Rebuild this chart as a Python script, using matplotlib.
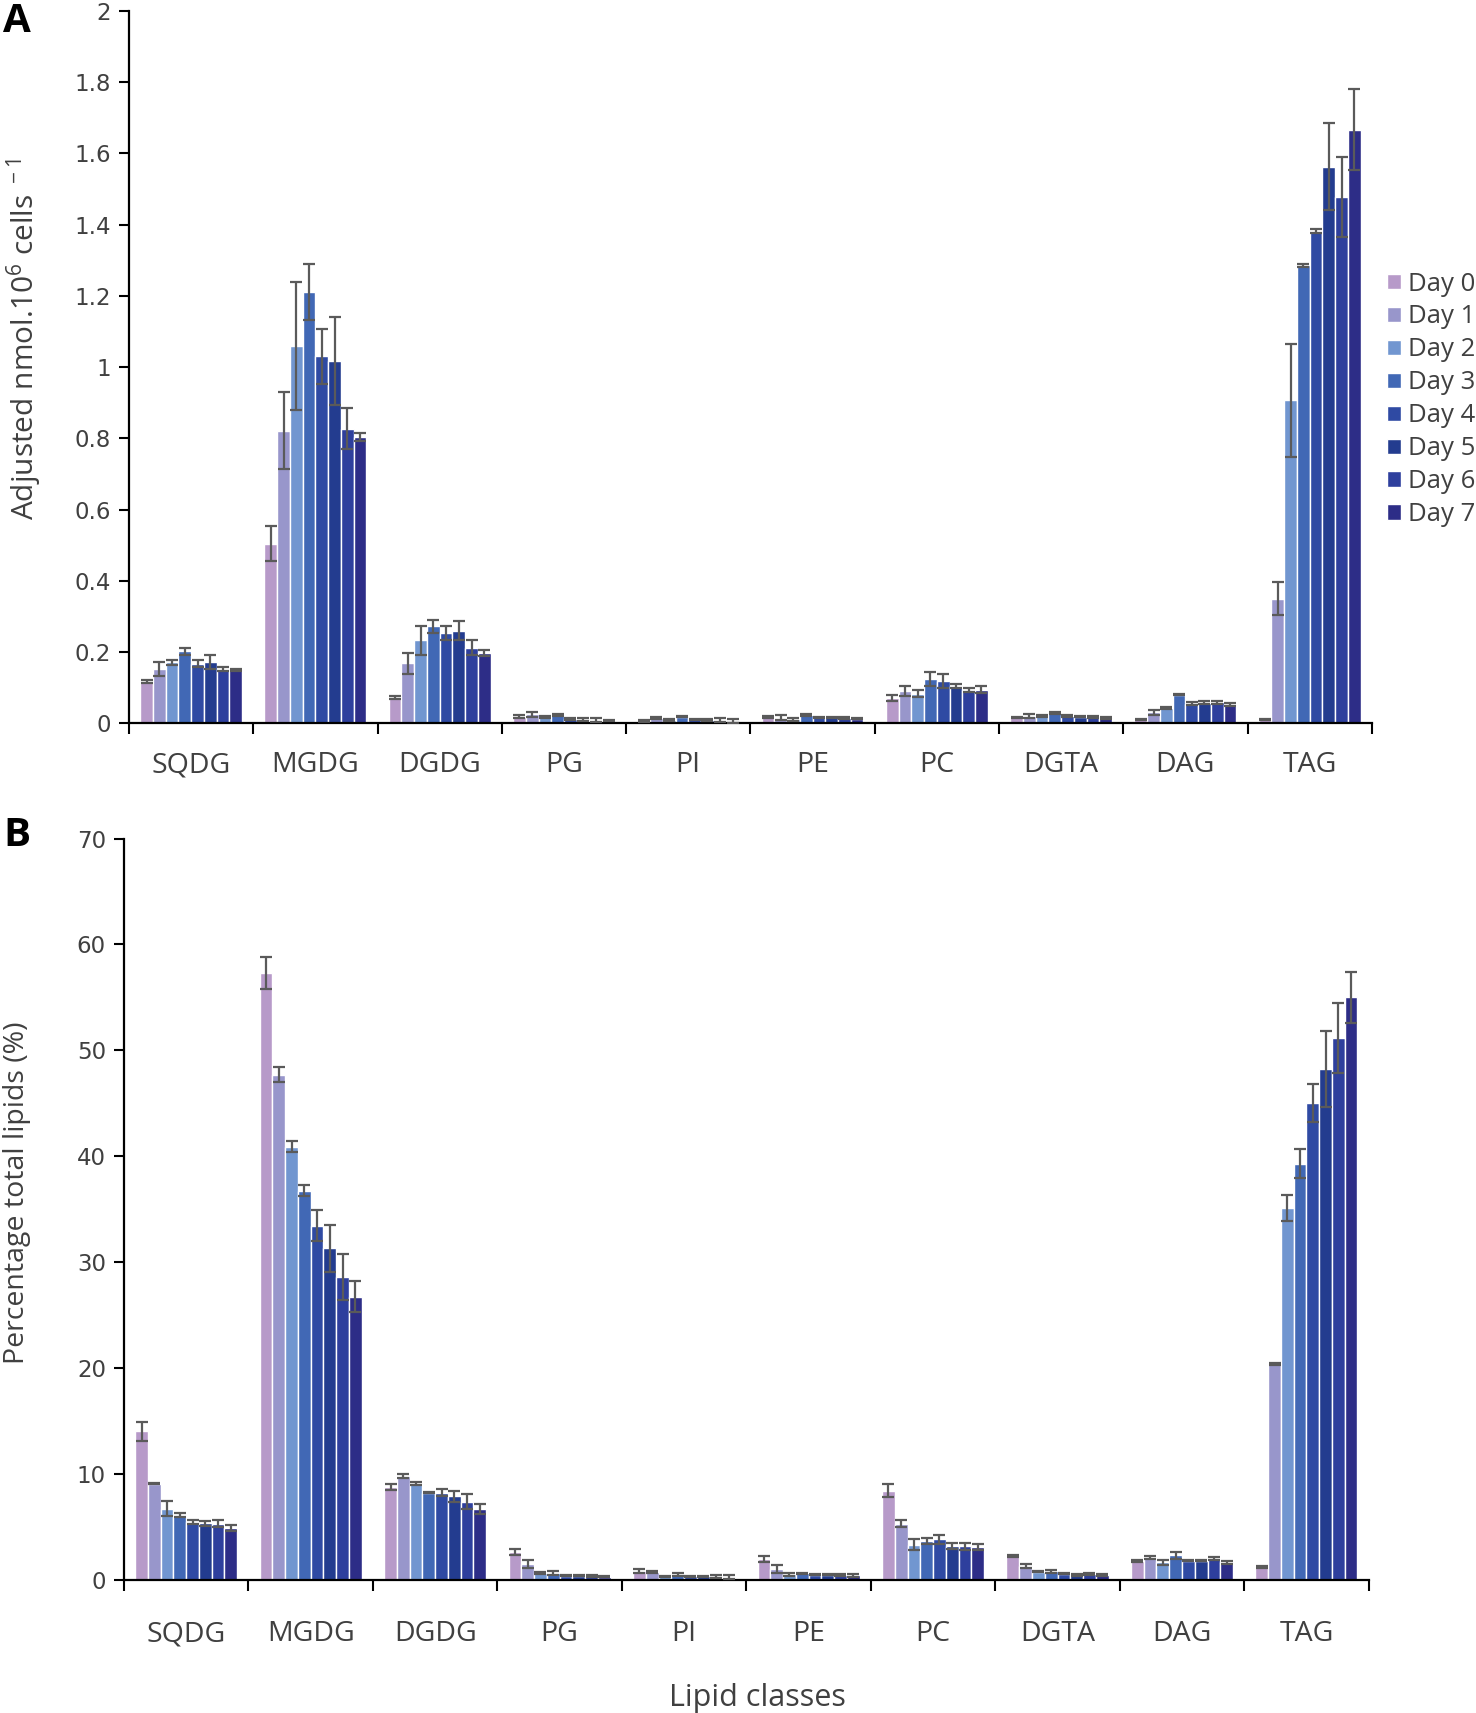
import numpy as np
import matplotlib
matplotlib.use("Agg")
import matplotlib.pyplot as plt

plt.rcParams['font.family'] = ['Open Sans', 'DejaVu Sans']
plt.rcParams['mathtext.default'] = 'regular'

categories = ["SQDG", "MGDG", "DGDG", "PG", "PI", "PE", "PC", "DGTA", "DAG", "TAG"]
days = ["Day 0", "Day 1", "Day 2", "Day 3", "Day 4", "Day 5", "Day 6", "Day 7"]
colors = ["#B79AC9", "#9896CB", "#7196D0", "#4168B5", "#2F4AA3", "#233C8F", "#2E3F9D", "#2D2D87"]

# Panel A: adjusted nmol per 10^6 cells (rows = categories, cols = days)
a_sqdg = [0.118, 0.153, 0.171, 0.202, 0.167, 0.173, 0.152, 0.149]
a_mgdg = [0.505, 0.822, 1.059, 1.212, 1.030, 1.017, 0.827, 0.804]
a_dgdg = [0.073, 0.169, 0.233, 0.273, 0.253, 0.260, 0.213, 0.198]
a_pg = [0.019, 0.025, 0.018, 0.024, 0.012, 0.011, 0.009, 0.008]
a_pi = [0.007, 0.015, 0.010, 0.019, 0.011, 0.010, 0.009, 0.006]
a_pe = [0.017, 0.016, 0.012, 0.023, 0.017, 0.017, 0.014, 0.013]
a_pc = [0.072, 0.090, 0.083, 0.125, 0.120, 0.105, 0.094, 0.095]
a_dgta = [0.017, 0.021, 0.021, 0.028, 0.021, 0.019, 0.018, 0.015]
a_dag = [0.011, 0.031, 0.043, 0.081, 0.055, 0.058, 0.059, 0.053]
a_tag = [0.011, 0.350, 0.907, 1.286, 1.382, 1.563, 1.478, 1.667]

a_sqdg_err = [0.004, 0.020, 0.006, 0.010, 0.010, 0.019, 0.005, 0.003]
a_mgdg_err = [0.049, 0.108, 0.180, 0.079, 0.078, 0.124, 0.058, 0.010]
a_dgdg_err = [0.005, 0.030, 0.040, 0.018, 0.020, 0.027, 0.022, 0.008]
a_pg_err = [0.004, 0.008, 0.003, 0.002, 0.002, 0.005, 0.005, 0.002]
a_pi_err = [0.002, 0.003, 0.003, 0.002, 0.002, 0.003, 0.005, 0.006]
a_pe_err = [0.003, 0.007, 0.004, 0.002, 0.002, 0.002, 0.003, 0.002]
a_pc_err = [0.008, 0.014, 0.010, 0.020, 0.020, 0.007, 0.005, 0.009]
a_dgta_err = [0.002, 0.006, 0.003, 0.003, 0.002, 0.002, 0.003, 0.002]
a_dag_err = [0.002, 0.007, 0.003, 0.002, 0.004, 0.004, 0.004, 0.004]
a_tag_err = [0.002, 0.046, 0.159, 0.005, 0.005, 0.122, 0.112, 0.114]

# Panel B: percentage of total lipids
b_sqdg = [14.0, 9.08, 6.7, 6.13, 5.43, 5.33, 5.3, 4.89]
b_mgdg = [57.3, 47.7, 40.9, 36.75, 33.45, 31.3, 28.6, 26.74]
b_dgdg = [8.76, 9.81, 9.11, 8.22, 8.22, 7.87, 7.37, 6.7]
b_pg = [2.6, 1.5, 0.67, 0.6, 0.38, 0.36, 0.33, 0.28]
b_pi = [0.8, 0.75, 0.32, 0.5, 0.33, 0.32, 0.3, 0.25]
b_pe = [1.97, 1.0, 0.5, 0.6, 0.46, 0.46, 0.44, 0.4]
b_pc = [8.41, 5.3, 3.3, 3.65, 3.8, 3.2, 3.15, 3.1]
b_dgta = [2.25, 1.3, 0.76, 0.8, 0.57, 0.48, 0.54, 0.45]
b_dag = [1.75, 2.1, 1.65, 2.29, 1.78, 1.78, 1.97, 1.65]
b_tag = [1.2, 20.34, 35.1, 39.3, 45.0, 48.2, 51.2, 55.0]

b_sqdg_err = [0.9, 0.05, 0.7, 0.2, 0.2, 0.25, 0.35, 0.25]
b_mgdg_err = [1.55, 0.7, 0.5, 0.5, 1.45, 2.2, 2.15, 1.5]
b_dgdg_err = [0.25, 0.2, 0.15, 0.05, 0.35, 0.5, 0.7, 0.45]
b_pg_err = [0.3, 0.4, 0.1, 0.2, 0.05, 0.05, 0.1, 0.05]
b_pi_err = [0.2, 0.1, 0.05, 0.15, 0.05, 0.05, 0.15, 0.15]
b_pe_err = [0.25, 0.4, 0.15, 0.05, 0.05, 0.05, 0.1, 0.1]
b_pc_err = [0.6, 0.3, 0.5, 0.3, 0.4, 0.3, 0.3, 0.3]
b_dgta_err = [0.1, 0.15, 0.05, 0.15, 0.05, 0.1, 0.1, 0.1]
b_dag_err = [0.1, 0.15, 0.25, 0.3, 0.05, 0.05, 0.15, 0.15]
b_tag_err = [0.1, 0.1, 1.2, 1.4, 1.8, 3.6, 3.3, 2.4]

A_vals = np.array([a_sqdg, a_mgdg, a_dgdg, a_pg, a_pi, a_pe, a_pc, a_dgta, a_dag, a_tag])
A_errs = np.array([a_sqdg_err, a_mgdg_err, a_dgdg_err, a_pg_err, a_pi_err, a_pe_err,
                   a_pc_err, a_dgta_err, a_dag_err, a_tag_err])
B_vals = np.array([b_sqdg, b_mgdg, b_dgdg, b_pg, b_pi, b_pe, b_pc, b_dgta, b_dag, b_tag])
B_errs = np.array([b_sqdg_err, b_mgdg_err, b_dgdg_err, b_pg_err, b_pi_err, b_pe_err,
                   b_pc_err, b_dgta_err, b_dag_err, b_tag_err])

TEXT = "#404040"
fig = plt.figure(figsize=(14.76, 17.13), dpi=100)
axA = fig.add_axes([0.0874, 0.5777, 0.8420, 0.4159])
axB = fig.add_axes([0.0840, 0.0778, 0.8433, 0.4327])

n_cat = len(categories)
n_day = len(days)
group_w = 0.82
slot = group_w / n_day
base = np.arange(n_cat) + 0.5 - group_w / 2


def draw(ax, vals, errs, ymax, yticks, ylabels_fmt, ylabel, label_pad, ylab_size, ylab_xy):
    for j in range(n_day):
        x = base + slot * (j + 0.5)
        ax.bar(x, vals[:, j], width=slot, color=colors[j], edgecolor="white",
               linewidth=1.0, label=days[j], zorder=2)
        ax.errorbar(x, vals[:, j], yerr=errs[:, j], fmt="none", ecolor="#5a5a5a",
                    elinewidth=1.6, capsize=4.5, capthick=1.6, zorder=3)
    ax.set_xlim(0, n_cat)
    ax.set_ylim(0, ymax)
    ax.set_yticks(yticks)
    ax.set_yticklabels([ylabels_fmt(v) for v in yticks], fontsize=16.5,
                       family="DejaVu Sans", color=TEXT)
    ax.set_xticks(np.arange(n_cat + 1))
    ax.set_xticklabels([])
    ax.set_xticks(np.arange(n_cat) + 0.5, minor=True)
    ax.set_xticklabels(categories, minor=True, fontsize=20.5, color=TEXT)
    ax.tick_params(axis="x", which="minor", length=0, pad=label_pad)
    ax.tick_params(axis="x", which="major", length=8, width=1.5, direction="out")
    ax.tick_params(axis="y", length=7, width=1.5, direction="out", pad=6)
    for s in ["top", "right"]:
        ax.spines[s].set_visible(False)
    for s in ["left", "bottom"]:
        ax.spines[s].set_linewidth(1.6)
        ax.spines[s].set_color("black")
    ax.set_ylabel(ylabel, fontsize=ylab_size, color=TEXT)
    ax.yaxis.set_label_coords(*ylab_xy)


def fmtA(v):
    s = f"{v:.1f}"
    if s.endswith(".0"):
        s = s[:-2]
    return s


draw(axA, A_vals, A_errs, 2.0, np.round(np.arange(0, 2.01, 0.2), 1), fmtA,
     r"Adjusted nmol.10$^{6}$ cells$^{\ -1}$", 20, 21.5, (-0.068, 0.54))
draw(axB, B_vals, B_errs, 70, np.arange(0, 71, 10), lambda v: f"{int(v)}",
     "Percentage total lipids (%)", 29, 20.5, (-0.075, 0.522))
axB.set_xlabel("Lipid classes", fontsize=22, color=TEXT)
axB.xaxis.set_label_coords(0.509, -0.139)

axA.legend(loc="upper left", bbox_to_anchor=(0.9242, 0.855), bbox_transform=fig.transFigure,
           frameon=False, fontsize=18.5, handlelength=0.55, handleheight=0.55,
           handletextpad=0.25, labelspacing=0.31, labelcolor=TEXT)

fig.text(0.002, 0.999, "A", fontsize=29, fontweight="bold", va="top", ha="left")
fig.text(0.002, 0.5236, "B", fontsize=29, fontweight="bold", va="top", ha="left")

fig.savefig("out.png", dpi=100)
